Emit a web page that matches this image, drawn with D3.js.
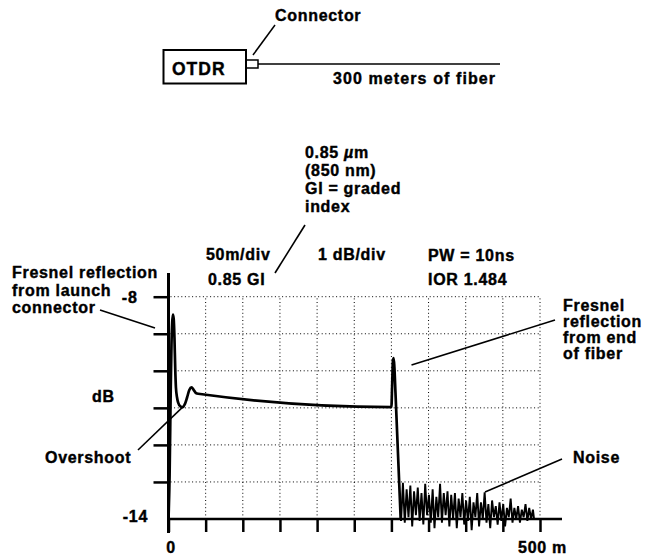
<!DOCTYPE html>
<html>
<head>
<meta charset="utf-8">
<script src="https://cdn.jsdelivr.net/npm/d3@7"></script>
<style>
  html, body { margin: 0; padding: 0; background: #fff; }
  svg { display: block; }
  text {
    font-family: "Liberation Sans", Arial, Helvetica, sans-serif;
    font-weight: bold;
    font-size: 16px;
    letter-spacing: 0.7px;
    fill: #000;
    stroke: #000;
    stroke-width: 0.4px;
  }
</style>
</head>
<body>
<script>
// OTDR trace of a 300 m graded-index fiber, 0.85 µm, 10 ns pulse.
const xTicks = [0, 50, 100, 150, 200, 250, 300, 350, 400, 450, 500];
const yTicks = [-8, -9, -10, -11, -12, -13];
const xTickLabels = { 0: "0", 500: "500 m" };
const yTickLabels = { "-8": "-8" };

// Backscatter trace: distance (m) and level (dB)
const traceM = [0, 1.5, 3, 4, 5, 6, 7, 8, 9, 10, 11.5, 13, 16, 19, 22, 25, 28, 31, 34, 37, 40,
                300, 301, 302, 303, 304, 305.5, 312.5];
const traceDb = [-14, -12.8, -10.5, -9.3, -8.7, -8.48, -8.6, -9.1, -9.9, -10.45, -10.72, -10.86, -10.96, -10.98, -10.9, -10.72, -10.52, -10.45, -10.52, -10.6, -10.62,
                 -10.98, -10.4, -9.75, -9.66, -9.9, -10.6, -14];

// Noise floor past the fiber end
const noiseM = [312.5, 313, 315.5, 318, 320.5, 323, 325.5, 328, 330.5, 333, 335.5, 338, 340.5, 343, 345.5, 348, 350.5,
                353, 355.5, 358, 360.5, 363, 365.5, 368, 370.5, 373, 375.5, 378, 380.5, 383, 385.5, 388, 390.5,
                393, 395.5, 398, 400.5, 403, 405.5, 408, 410.5, 413, 415.5, 418, 420.5, 423, 425.5, 428, 430.5,
                433, 435.5, 438, 440.5, 443, 445.5, 448, 450.5, 453, 455.5, 458, 460.5, 463, 465.5, 468, 470.5,
                473, 475.5, 478, 480.5, 483, 485.5, 488, 490.5, 492];
const noiseDb = [-14, -14.05, -13.02, -14.1, -13.2, -13.95, -13.1, -14.2, -13.25, -13.9, -13.15, -14.05, -13.3, -14.15, -13.05, -13.9, -13.35,
                 -14.1, -13.2, -14.25, -13.4, -13.95, -13.05, -14.1, -13.3, -13.9, -13.25, -14.2, -13.35, -14.0, -13.3, -14.25, -13.45,
                 -13.95, -13.3, -14.15, -13.5, -14.05, -13.4, -14.3, -13.55, -13.95, -13.3, -14.2, -13.55, -14.0, -13.28, -14.1, -13.6,
                 -14.25, -13.5, -13.95, -13.65, -14.15, -13.55, -14.05, -13.6, -14.2, -13.7, -13.95, -13.45, -14.1, -13.7, -14.0, -13.65,
                 -14.1, -13.75, -13.95, -13.6, -14.05, -13.7, -14.0, -13.75, -14.0];

const W = 648, H = 557;
const svg = d3.select("body").append("svg").attr("width", W).attr("height", H);
svg.append("rect").attr("width", W).attr("height", H).attr("fill", "#fff");

const x = d3.scaleLinear().domain([0, 500]).range([168.5, 540]);
const y = d3.scaleLinear().domain([-14, -8]).range([519, 296.7]);

// ---- OTDR / fiber sketch ----
const sketch = svg.append("g").attr("fill", "none").attr("stroke", "#000");
sketch.append("rect").attr("x", 163.5).attr("y", 50).attr("width", 82.5).attr("height", 33.5).attr("stroke-width", 2);
sketch.append("rect").attr("x", 246).attr("y", 60).attr("width", 12).attr("height", 8).attr("stroke-width", 1.5);
sketch.append("line").attr("x1", 258).attr("y1", 64).attr("x2", 500).attr("y2", 64).attr("stroke-width", 1.6);
sketch.append("line").attr("x1", 253).attr("y1", 55).attr("x2", 275).attr("y2", 25).attr("stroke-width", 1.5);
svg.append("text").attr("x", 172).attr("y", 75).style("font-size", "17.5px").style("letter-spacing", "1px").text("OTDR");
svg.append("text").attr("x", 275).attr("y", 21).text("Connector");
svg.append("text").attr("x", 333).attr("y", 84).style("letter-spacing", "1.1px").text("300 meters of fiber");

// ---- grid ----
const grid = svg.append("g").attr("stroke", "#000").attr("stroke-width", 1).attr("stroke-dasharray", "1,2.6");
grid.selectAll("line.h").data(yTicks).join("line").attr("class", "h")
  .attr("x1", x(0) + 2).attr("x2", x(500)).attr("y1", d => y(d)).attr("y2", d => y(d));
grid.selectAll("line.v").data(xTicks.filter(d => d > 0)).join("line").attr("class", "v")
  .attr("x1", d => x(d)).attr("x2", d => x(d)).attr("y1", y(-14)).attr("y2", y(-8));

// ---- axes ----
const yAxis = svg.append("g").attr("transform", `translate(${x(0)},0)`)
  .call(d3.axisLeft(y).tickValues(yTicks).tickSize(15).tickPadding(16)
    .tickFormat(d => yTickLabels[d] || ""));
yAxis.select(".domain").remove();
yAxis.selectAll(".tick line").attr("stroke-width", 2.5);
yAxis.selectAll(".tick text").attr("dy", "0.36em");

const xAxis = svg.append("g").attr("transform", `translate(0,${y(-14)})`)
  .call(d3.axisBottom(x).tickValues(xTicks).tickSize(13).tickPadding(9.6)
    .tickFormat(d => xTickLabels[d] || ""));
xAxis.select(".domain").remove();
xAxis.selectAll(".tick line").attr("stroke-width", 2.5);
xAxis.selectAll(".tick text").attr("dx", 2);

svg.append("line").attr("x1", x(0)).attr("x2", x(0)).attr("y1", 273).attr("y2", y(-14) + 14)
  .attr("stroke", "#000").attr("stroke-width", 3);
svg.append("line").attr("x1", x(0)).attr("x2", 562).attr("y1", y(-14)).attr("y2", y(-14))
  .attr("stroke", "#000").attr("stroke-width", 2.5);
svg.append("text").attr("x", 148).attr("y", y(-14) + 3).attr("text-anchor", "end").text("-14");

// ---- trace ----
svg.append("path")
  .attr("d", d3.line().x(d => x(d[0])).y(d => y(d[1])).curve(d3.curveMonotoneX)(d3.zip(traceM, traceDb)))
  .attr("fill", "none").attr("stroke", "#000").attr("stroke-width", 2.7).attr("stroke-linejoin", "round");
svg.append("path")
  .attr("d", d3.line().x(d => x(d[0])).y(d => y(d[1]))(d3.zip(noiseM, noiseDb)))
  .attr("fill", "none").attr("stroke", "#000").attr("stroke-width", 1.9).attr("stroke-linejoin", "miter");

// ---- annotations ----
const ann = svg.append("g").attr("stroke", "#000").attr("stroke-width", 1.6);
ann.append("line").attr("x1", 100).attr("y1", 310).attr("x2", 155).attr("y2", 328);
ann.append("line").attr("x1", 138).attr("y1", 450).attr("x2", x(19)).attr("y2", y(-10.98));
ann.append("line").attr("x1", 275).attr("y1", 273).attr("x2", 305).attr("y2", 225);
ann.append("line").attr("x1", 411.5).attr("y1", 365).attr("x2", 555).attr("y2", 320);
ann.append("line").attr("x1", 485).attr("y1", 492).attr("x2", 562).attr("y2", 459);

function block(x0, y0, lines, step) {
  lines.forEach((t, i) => svg.append("text").attr("x", x0).attr("y", y0 + i * step).text(t));
}
block(12, 278, ["Fresnel reflection", "from launch", "connector"], 17.5);
block(563, 311, ["Fresnel", "reflection", "from end", "of fiber"], 16);

const mu = svg.append("text").attr("x", 305).attr("y", 158);
mu.append("tspan").text("0.85 ");
mu.append("tspan").style("font-style", "italic").text("µ");
mu.append("tspan").text("m");
block(305, 176, ["(850 nm)", "GI = graded", "index"], 17.9);

svg.append("text").attr("x", 206).attr("y", 260).text("50m/div");
svg.append("text").attr("x", 208).attr("y", 285).text("0.85 GI");
svg.append("text").attr("x", 318).attr("y", 260).text("1 dB/div");
svg.append("text").attr("x", 428).attr("y", 261).text("PW = 10ns");
svg.append("text").attr("x", 428).attr("y", 285).text("IOR 1.484");
svg.append("text").attr("x", 92).attr("y", 402).text("dB");
svg.append("text").attr("x", 45).attr("y", 463).text("Overshoot");
svg.append("text").attr("x", 573).attr("y", 463).text("Noise");
</script>
</body>
</html>
